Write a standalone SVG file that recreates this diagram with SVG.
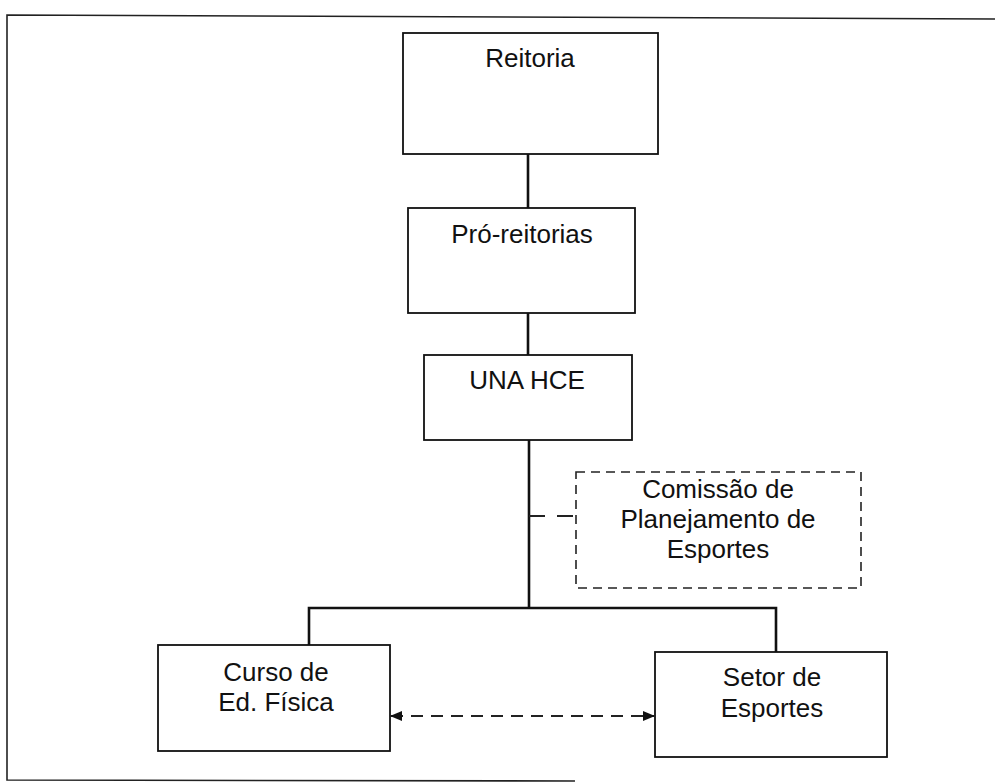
<svg xmlns="http://www.w3.org/2000/svg" width="995" height="784" viewBox="0 0 995 784">
<style>
.box{fill:#fff;stroke:#111;stroke-width:1.8}
.dbox{fill:#fff;stroke:#222;stroke-width:1.6;stroke-dasharray:9,6}
.t{font-family:"Liberation Sans",Arial,sans-serif;font-size:26px;fill:#111;text-anchor:middle}
.c{fill:none;stroke:#111;stroke-width:2.6}
.cd{fill:none;stroke:#222;stroke-width:2.2}
.frame{fill:none;stroke:#222;stroke-width:1.6}
</style>
<defs>
<marker id="ah" viewBox="0 0 12 10" refX="11" refY="5" markerWidth="12" markerHeight="10" markerUnits="userSpaceOnUse" orient="auto-start-reverse">
<path d="M0,0 L12,5 L0,10 Z" fill="#111"/>
</marker>
</defs>
<rect width="995" height="784" fill="#fff"/>
<path class="frame" d="M995,19 L7,15 L7,780 L575,781"/>
<g id="connectors">
<line class="c" x1="528" y1="154" x2="528" y2="208"/>
<line class="c" x1="528" y1="313" x2="528" y2="355"/>
<line class="c" x1="529" y1="440" x2="529" y2="609"/>
<path class="c" d="M309,645 L309,608 L776,608 L776,652"/>
<line class="cd" x1="529" y1="516" x2="576" y2="516" stroke-dasharray="16,12"/>
<line class="cd" x1="391" y1="716" x2="654" y2="716" stroke-width="1.6" stroke-dasharray="12,8" marker-start="url(#ah)" marker-end="url(#ah)"/>
</g>
<g id="reitoria">
<rect class="box" x="403" y="33" width="255" height="121"/>
<text class="t" x="530" y="67">Reitoria</text>
</g>
<g id="pro-reitorias">
<rect class="box" x="408" y="208" width="227" height="105"/>
<text class="t" x="522" y="243">Pró-reitorias</text>
</g>
<g id="una-hce">
<rect class="box" x="424" y="355" width="208" height="85"/>
<text class="t" x="527" y="389">UNA HCE</text>
</g>
<g id="comissao">
<rect class="dbox" x="576" y="472" width="285" height="116"/>
<text class="t" x="718" y="498">Comissão de</text>
<text class="t" x="718" y="528">Planejamento de</text>
<text class="t" x="718" y="558">Esportes</text>
</g>
<g id="curso">
<rect class="box" x="158" y="645" width="232" height="106"/>
<text class="t" x="276" y="681">Curso de</text>
<text class="t" x="276" y="711">Ed. Física</text>
</g>
<g id="setor">
<rect class="box" x="655" y="652" width="232" height="105"/>
<text class="t" x="772" y="686">Setor de</text>
<text class="t" x="772" y="717">Esportes</text>
</g>
</svg>
